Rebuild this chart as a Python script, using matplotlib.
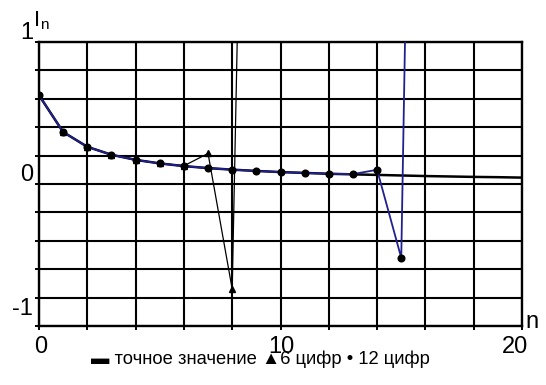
import numpy as np
import matplotlib
matplotlib.use("Agg")
import matplotlib.pyplot as plt

plt.rcParams['font.family'] = ['Liberation Sans', 'DejaVu Sans']

# n = 0..20
n_exact = np.arange(0, 21)
I_exact = [0.625, 0.366, 0.262, 0.206, 0.170, 0.145, 0.126, 0.112, 0.101, 0.092,
           0.084, 0.078, 0.072, 0.068, 0.064, 0.060, 0.056, 0.053, 0.050, 0.048, 0.045]

# 6 significant digits
n_6 = np.arange(0, 10)
I_6 = [0.625, 0.366, 0.262, 0.206, 0.170, 0.145, 0.128, 0.215, -0.74, 7.66]

# 12 significant digits
n_12 = np.arange(0, 17)
I_12 = [0.625, 0.366, 0.262, 0.206, 0.170, 0.145, 0.126, 0.112, 0.101, 0.092,
        0.084, 0.078, 0.072, 0.070, 0.100, -0.52, 9.3]

fig = plt.figure(figsize=(5.46, 3.85), dpi=100)
ax = fig.add_axes([39/546, 59/385, 483/546, 284/385])

ax.plot(n_exact, I_exact, color='black', lw=1.8, zorder=3)
ax.plot(n_6, I_6, color='black', lw=0.9, marker='^', ms=5, zorder=4)
ax.plot(n_12, I_12, color='#202090', lw=1.3, marker='o', ms=4.8,
        mfc='black', mec='black', zorder=5)

ax.set_xlim(0, 20)
ax.set_ylim(-1, 1)
ax.set_xticks(np.arange(0, 21, 2))
ax.set_yticks(np.linspace(-1, 1, 11))
ax.set_xticklabels([])
ax.set_yticklabels([])
ax.tick_params(length=3, width=1.4, color='black', direction='out')
ax.grid(True, color='black', lw=1.5)
ax.set_axisbelow(True)
for s in ax.spines.values():
    s.set_linewidth(1.7)

# axis labels, Mathcad style
lab = dict(fontsize=17, color='black')
ax.annotate('1', (0, 1), xycoords=('axes fraction', 'data'), xytext=(-6, -2),
            textcoords='offset pixels', ha='right', va='bottom', **lab)
ax.annotate('0', (0, 0), xycoords=('axes fraction', 'data'), xytext=(-6, -2),
            textcoords='offset pixels', ha='right', va='bottom', **lab)
ax.annotate('-1', (0, -1), xycoords=('axes fraction', 'data'), xytext=(-6, 6),
            textcoords='offset pixels', ha='right', va='bottom', **lab)
ax.annotate('0', (0, 0), xycoords=('data', 'axes fraction'), xytext=(2, -10),
            textcoords='offset pixels', ha='center', va='top', **lab)
ax.annotate('10', (10, 0), xycoords=('data', 'axes fraction'), xytext=(1, -10),
            textcoords='offset pixels', ha='center', va='top', **lab)
ax.annotate('20', (20, 0), xycoords=('data', 'axes fraction'), xytext=(6, -10),
            textcoords='offset pixels', ha='right', va='top', **lab)
ax.annotate('n', (1, 0), xycoords='axes fraction', xytext=(3, -2),
            textcoords='offset pixels', ha='left', va='baseline', **lab)
ax.annotate('I', (0, 1), xycoords='axes fraction', xytext=(-5, 16),
            textcoords='offset pixels', ha='left', va='baseline', fontsize=16)
ax.annotate('n', (0, 1), xycoords='axes fraction', xytext=(1, 13),
            textcoords='offset pixels', ha='left', va='baseline', fontsize=11)

fig.text(260/546, 1 - 364/385, '▬ точное значение ▲6 цифр • 12 цифр',
         ha='center', va='baseline', fontsize=13.2)

fig.savefig('out.png', dpi=100)
